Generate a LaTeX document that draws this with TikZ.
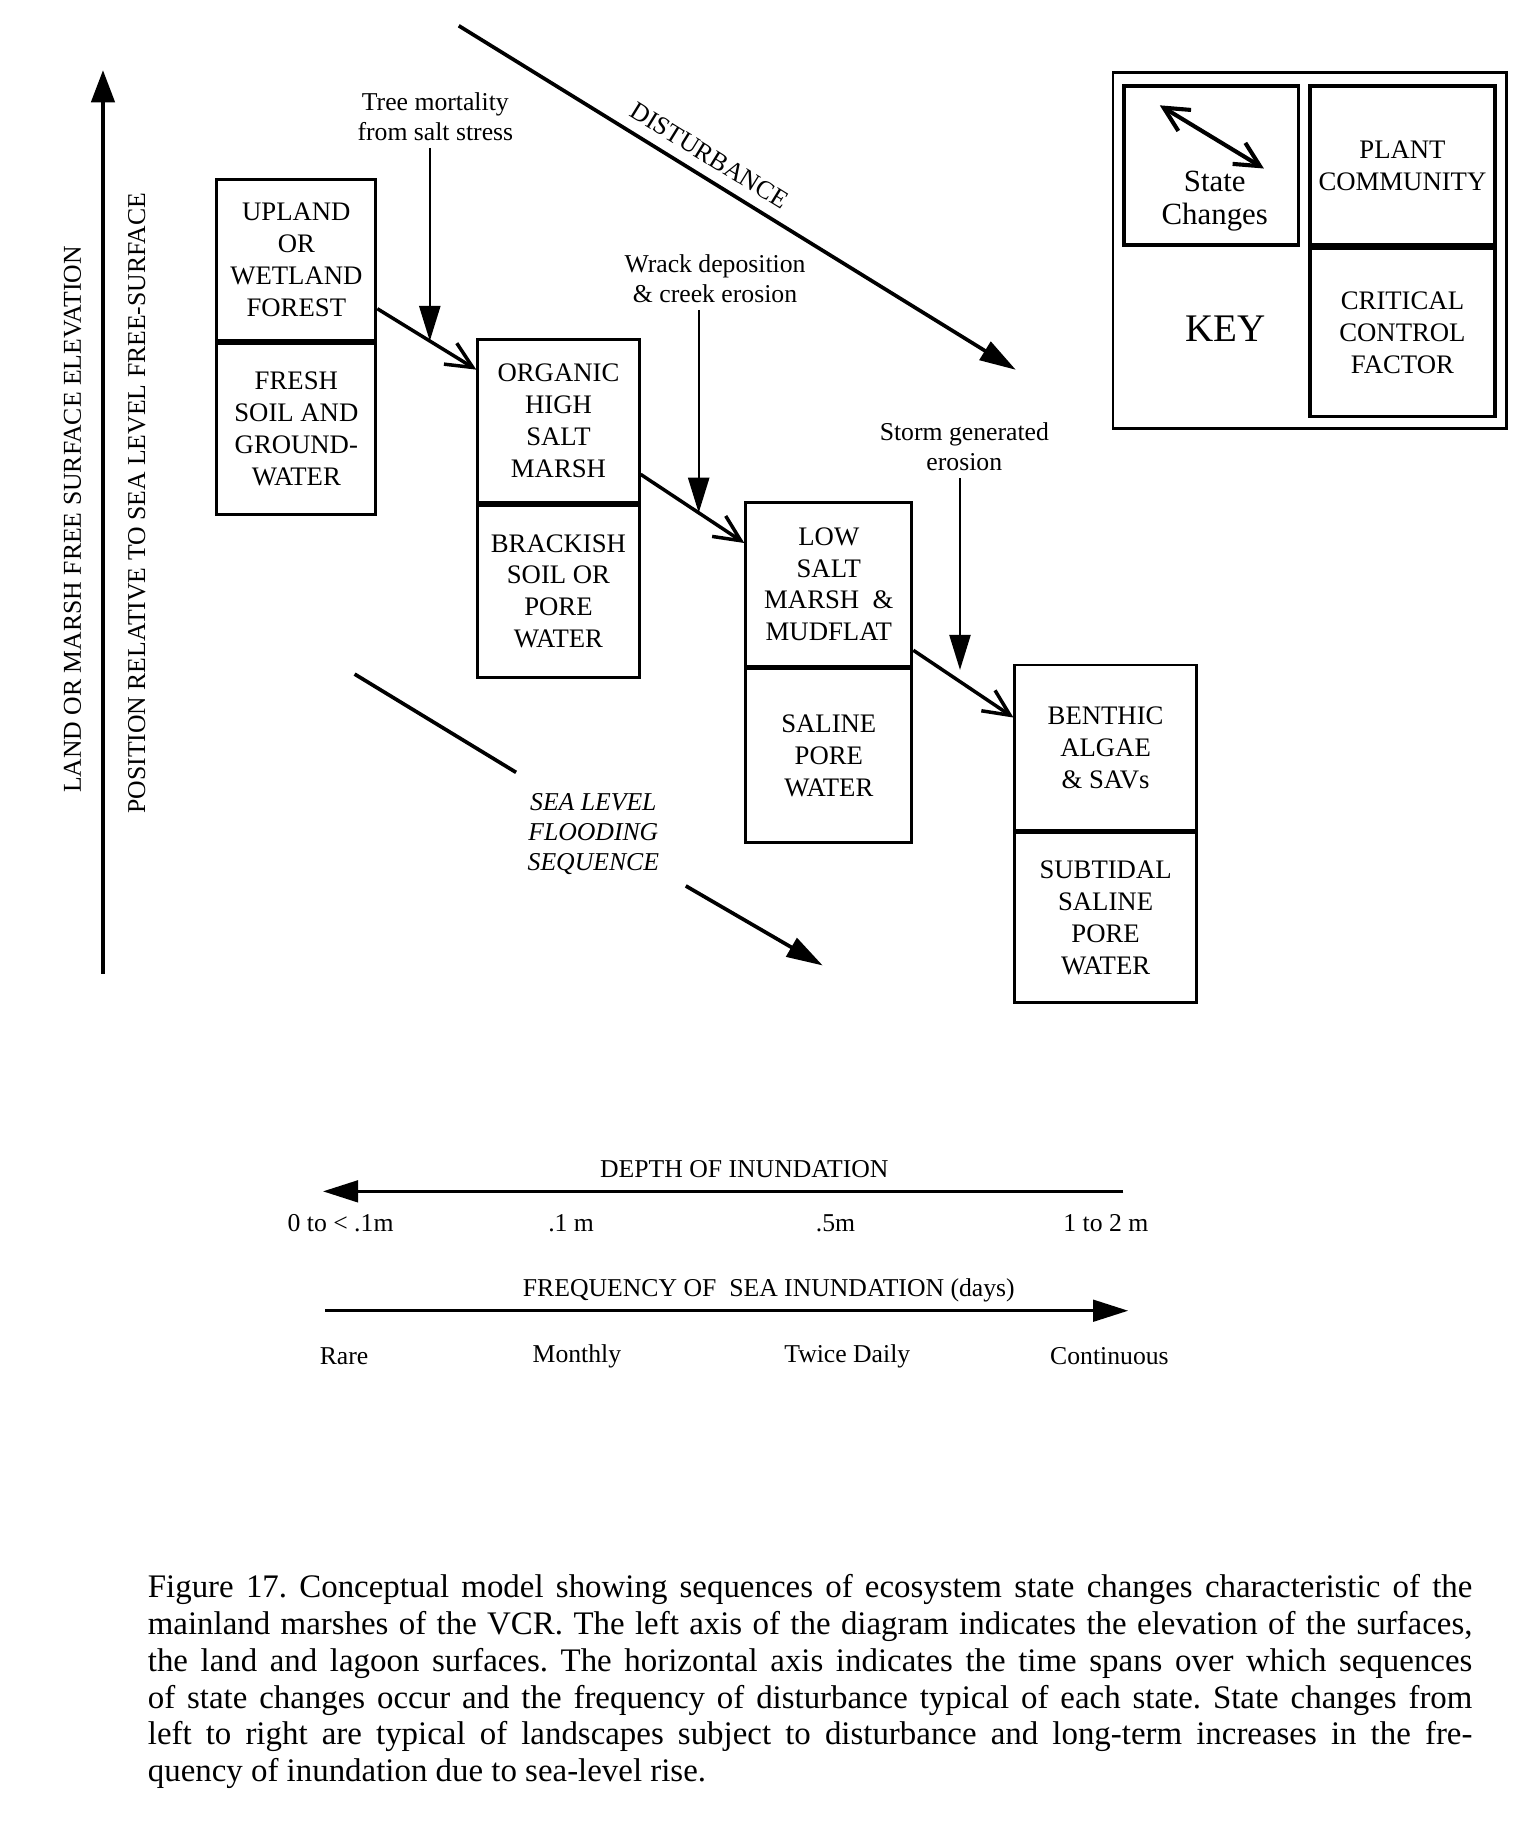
\documentclass[tikz,border=0pt]{standalone}
\usepackage{fontspec}
\setmainfont{Liberation Serif}
\usetikzlibrary{arrows.meta, positioning}

\newcommand{\vcrbox}{\fontsize{13}{15.5}\selectfont}
\newcommand{\vcrlab}{\fontsize{12.5}{14.6}\selectfont}
\newcommand{\vcrstate}{\fontsize{15}{15.9}\selectfont}
\newcommand{\vcrkey}{\fontsize{19}{22}\selectfont}
\newcommand{\vcrcap}{\fontsize{16}{17.9}\selectfont\frenchspacing}

\begin{document}
\begin{tikzpicture}[x=0.02cm, y={(0cm,-0.02cm)},
    half/.style={draw, line width=1.4pt, inner sep=0pt, align=center, font=\vcrbox},
    keycell/.style={draw, line width=1.6pt, inner sep=0pt, align=center, font=\vcrbox},
    statechange/.style={line width=1.7pt, -{Straight Barb[length=0.45cm, width=0.42cm]}},
    factor/.style={line width=1.1pt, -{Triangle[length=0.6cm, width=0.36cm]}},
    trend/.style={line width=1.8pt, -{Triangle[length=0.62cm, width=0.36cm]}},
    scalearrow/.style={line width=1.4pt, -{Triangle[length=0.6cm, width=0.37cm]}},
    lab/.style={font=\vcrlab, align=center}]
    \useasboundingbox (0,0) rectangle (1306,1568);

    % 纵轴
    \coordinate (v0) at (88,832);
    \coordinate (v1) at (88,60);
    \draw[line width=1.7pt, -{Triangle[length=0.55cm, width=0.4cm]}] (v0) -- (v1);
    \node[rotate=90, font=\vcrlab] (elev) at (62,444) {LAND OR MARSH FREE SURFACE ELEVATION};
    \node[rotate=90, font=\vcrlab] (posn) at (117,430) {POSITION RELATIVE TO SEA LEVEL FREE-SURFACE};

    % 状态框
    \node[half, minimum width=2.72cm, minimum height=2.76cm, anchor=north west] (upland) at (184,152) {UPLAND\\OR\\WETLAND\\FOREST};
    \node[half, minimum width=2.72cm, minimum height=2.92cm, below=0pt of upland] (fresh) {FRESH\\SOIL AND\\GROUND-\\WATER};

    \node[half, minimum width=2.76cm, minimum height=2.78cm, anchor=north west] (organic) at (407,289) {ORGANIC\\HIGH\\SALT\\MARSH};
    \node[half, minimum width=2.76cm, minimum height=2.94cm, below=0pt of organic] (brackish) {BRACKISH\\SOIL OR\\PORE\\WATER};

    \node[half, minimum width=2.84cm, minimum height=2.8cm, anchor=north west] (lowmarsh) at (636,428) {LOW\\SALT\\MARSH~~\&\\MUDFLAT};
    \node[half, minimum width=2.84cm, minimum height=2.96cm, below=0pt of lowmarsh] (saline) {SALINE\\PORE\\WATER};

    \node[half, minimum width=3.1cm, minimum height=2.82cm, anchor=north west] (benthic) at (866,567) {BENTHIC\\ALGAE\\\& SAVs};
    \node[half, minimum width=3.1cm, minimum height=2.9cm, below=0pt of benthic] (subtidal) {SUBTIDAL\\SALINE\\PORE\\WATER};

    % 状态变化
    \draw[statechange] (upland.-31) -- coordinate[pos=0.53] (c1) (organic.148);
    \draw[statechange] (organic.-33) -- coordinate[pos=0.56] (c2) (lowmarsh.154);
    \draw[statechange] (lowmarsh.-38) -- coordinate[pos=0.466] (c3) (benthic.162);

    % 控制因子
    \node[lab] (tree) at (372,99.5) {Tree mortality\\from salt stress};
    \node[lab] (wrack) at (611,238) {Wrack deposition\\\& creek erosion};
    \node[lab] (storm) at (824,382) {Storm generated\\erosion};
    \draw[factor] (c1 |- tree.south) -- (c1);
    \draw[factor] (c2 |- wrack.south) -- (c2);
    \draw[factor] (c3 |- storm.south) -- ([yshift=0.2cm]c3);

    % 扰动
    \coordinate (d1) at (392,22);
    \coordinate (d2) at (868,316);
    \draw[trend] (d1) -- node[sloped, above=2pt, pos=0.43, font=\vcrlab] (dist) {DISTURBANCE} (d2);

    % 海平面
    \coordinate (s1) at (303,576);
    \coordinate (s2) at (441,660);
    \draw[line width=1.8pt] (s1) -- (s2);
    \node[lab, font=\vcrlab\itshape] (slfs) at (507,713) {SEA LEVEL\\FLOODING\\SEQUENCE};
    \coordinate (s3) at (586,757);
    \coordinate (s4) at (703,825);
    \draw[trend] (s3) -- (s4);

    % 图例
    \node[draw, line width=1.3pt, minimum width=6.72cm, minimum height=6.08cm, anchor=north west] (keybox) at (950,61) {};
    \node[keycell, minimum width=2.98cm, minimum height=2.72cm, anchor=north west] (statecell) at (959,72) {};
    \node[font=\vcrstate, align=center] (statelbl) at (1038,172) {State\\Changes};
    \coordinate (ka) at (991,90);
    \coordinate (kb) at (1080,144);
    \draw[line width=2pt, {Straight Barb[length=0.42cm, width=0.42cm]}-{Straight Barb[length=0.42cm, width=0.42cm]}] (ka) -- (kb);
    \node[keycell, minimum width=3.16cm, minimum height=2.72cm, anchor=north west] (plant) at (1118,72) {PLANT\\COMMUNITY};
    \node[keycell, minimum width=3.16cm, minimum height=2.88cm, below=0pt of plant] (critical) {CRITICAL\\CONTROL\\FACTOR};
    \node[font=\vcrkey] (keylbl) at (1047,281) {KEY};

    % 横轴：淹没深度
    \node[font=\vcrlab] (depth) at (636,999) {DEPTH OF INUNDATION};
    \coordinate (h1) at (960,1018);
    \coordinate (h0) at (276,1018);
    \draw[scalearrow] (h1) -- (h0);
    \foreach \x/\t [count=\i] in {291/{0 to < .1m}, 488/{.1 m}, 714/{.5m}, 945/{1 to 2 m}} {
        \node[font=\vcrlab] (dv\i) at (\x,1045) {\t};
    }

    % 横轴：淹没频率
    \node[font=\vcrlab] (freq) at (657,1103) {FREQUENCY OF~~SEA INUNDATION (days)};
    \coordinate (f0) at (278,1120);
    \coordinate (f1) at (964,1120);
    \draw[scalearrow] (f0) -- (f1);
    \foreach \x/\t [count=\i] in {294/Rare, 493/Monthly, 724/{Twice Daily}, 948/Continuous} {
        \node[font=\vcrlab] (fv\i) at (\x,1159) {\t};
    }

    % 图注
    \node[anchor=north west, text width=22.64cm, align=justify, inner sep=0pt, font=\vcrcap] (caption) at (126,1345) {Figure 17. Conceptual model showing sequences of ecosystem state changes characteristic of the\linebreak
    mainland marshes of the VCR. The left axis of the diagram indicates the elevation of the surfaces,\linebreak
    the land and lagoon surfaces. The horizontal axis indicates the time spans over which sequences\linebreak
    of state changes occur and the frequency of disturbance typical of each state. State changes from\linebreak
    left to right are typical of landscapes subject to disturbance and long-term increases in the fre-\linebreak
    quency of inundation due to sea-level rise.};
\end{tikzpicture}
\end{document}
